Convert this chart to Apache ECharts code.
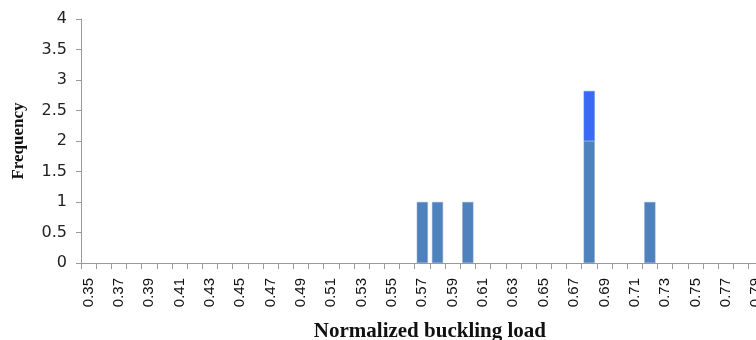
<!DOCTYPE html>
<html><head><meta charset="utf-8">
<script src="https://cdn.jsdelivr.net/npm/echarts@6/dist/echarts.min.js"></script>
<style>html,body{margin:0;padding:0;background:#fff}#c{width:756px;height:340px}</style>
</head><body><div id="c"></div>
<script>
var categories = ['0.35','0.36','0.37','0.38','0.39','0.40','0.41','0.42','0.43','0.44','0.45','0.46','0.47','0.48','0.49','0.50','0.51','0.52','0.53','0.54','0.55','0.56','0.57','0.58','0.59','0.60','0.61','0.62','0.63','0.64','0.65','0.66','0.67','0.68','0.69','0.70','0.71','0.72','0.73','0.74','0.75','0.76','0.77','0.78','0.79','0.80'];
var baseFreq = {'0.57':1,'0.58':1,'0.60':1,'0.68':2,'0.72':1};
var topFreq = {'0.68':0.82};
var yTicks = {min:0, max:4, interval:0.5};

var baseData = categories.map(function(c){return baseFreq[c] != null ? baseFreq[c] : '-';});
var topData = categories.map(function(c){return topFreq[c] != null ? topFreq[c] : '-';});

var chart = echarts.init(document.getElementById('c'), null, {renderer:'canvas'});
chart.setOption({
  animation:false,
  backgroundColor:'#ffffff',
  grid:{left:81, top:19, width:46*15.17, height:244, containLabel:false, outerBoundsMode:'none'},
  xAxis:{
    type:'category', data:categories,
    axisLine:{lineStyle:{color:'#9a9a9a', width:1}},
    axisTick:{show:true, interval:0, length:6, lineStyle:{color:'#9a9a9a'}},
    axisLabel:{interval:1, rotate:90, color:'#111', fontFamily:'Liberation Sans', fontSize:15, margin:15},
    name:'Normalized buckling load', nameLocation:'middle', nameGap:58,
    nameTextStyle:{fontFamily:'Liberation Serif', fontWeight:'bold', fontSize:21, color:'#111'}
  },
  yAxis:{
    type:'value', min:yTicks.min, max:yTicks.max, interval:yTicks.interval,
    splitLine:{show:false},
    axisLine:{show:true, lineStyle:{color:'#9a9a9a'}},
    axisTick:{show:true, length:5, lineStyle:{color:'#9a9a9a'}},
    axisLabel:{color:'#222', fontFamily:'DejaVu Sans', fontSize:16, margin:14},
    name:'Frequency', nameLocation:'middle', nameGap:54,
    nameTextStyle:{fontFamily:'Liberation Serif', fontWeight:'bold', fontSize:17, color:'#111'}
  },
  series:[
    {type:'bar', stack:'f', data:baseData, barCategoryGap:'27%', itemStyle:{color:'#4f81bd', borderColor:'#7fa3d0', borderWidth:0.5}},
    {type:'bar', stack:'f', data:topData, barCategoryGap:'27%', itemStyle:{color:'#3a6af4', borderColor:'#5a86f6', borderWidth:0.5}}
  ]
});
</script></body></html>
